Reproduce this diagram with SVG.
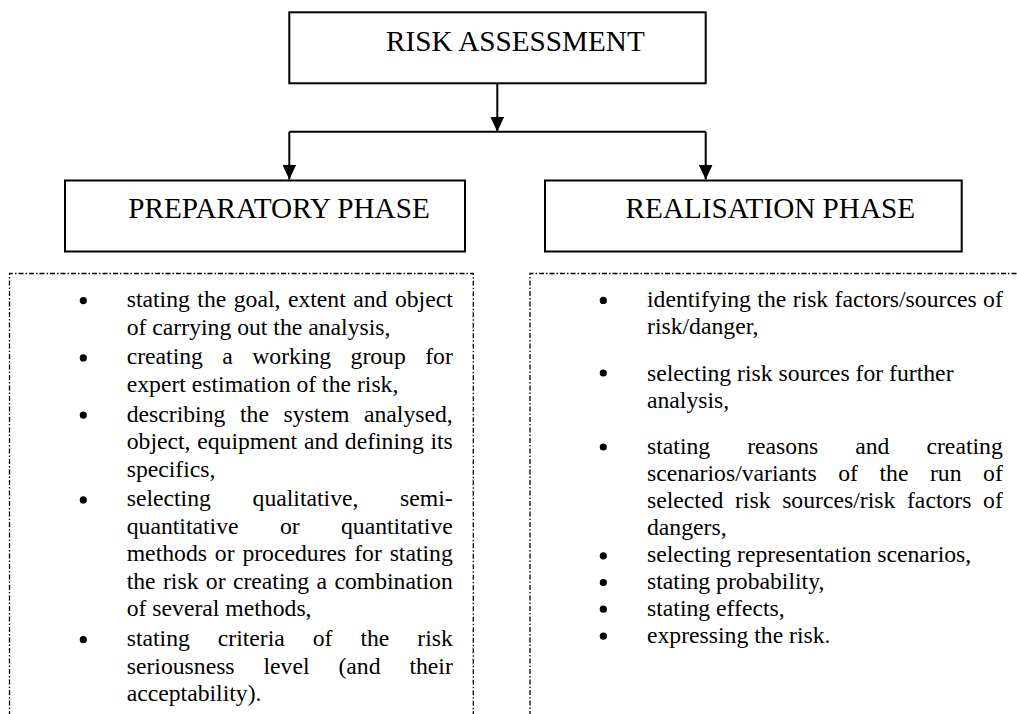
<svg xmlns="http://www.w3.org/2000/svg" width="1017" height="714" viewBox="0 0 1017 714">
<style>
.box{fill:#fff;stroke:#000;stroke-width:2}
.dash{fill:none;stroke:#000;stroke-width:1.3;stroke-dasharray:5 2 1.5 2}
.con{fill:none;stroke:#000;stroke-width:2}
.h{font-size:29.2px;fill:#000}
.t{font-size:23.7px;fill:#000}
.b{fill:#000}
</style>
<defs>
<marker id="ah" viewBox="0 0 15 14" refX="15" refY="7" markerWidth="15" markerHeight="14" markerUnits="userSpaceOnUse" orient="auto">
<path d="M0,0 L15,7 L0,14 Z" fill="#000"/>
</marker>
</defs>
<rect width="1017" height="714" fill="#fff"/>
<g id="connectors">
<path class="con" d="M497.3,83 V131.7" marker-end="url(#ah)"/>
<path class="con" d="M289.3,131.7 H705.7"/>
<path class="con" d="M289.3,131.7 V179.5" marker-end="url(#ah)"/>
<path class="con" d="M705.7,131.7 V179.5" marker-end="url(#ah)"/>
</g>
<g font-family="Liberation Serif, Times New Roman, Times, DejaVu Serif, serif">
<g id="node-risk-assessment">
<rect class="box" x="289.3" y="12.3" width="416.4" height="71"/>
<text class="h" x="386" y="50.5">RISK ASSESSMENT</text>
</g>
<g id="node-preparatory-phase">
<rect class="box" x="65" y="180.5" width="400" height="71"/>
<text class="h" x="128.3" y="218">PREPARATORY PHASE</text>
</g>
<g id="node-realisation-phase">
<rect class="box" x="545" y="180.5" width="416.7" height="71"/>
<text class="h" x="625.6" y="218">REALISATION PHASE</text>
</g>
<g id="node-preparatory-list">
<path class="dash" d="M9.5,716 V273.5 H473.3 V716"/>
<circle class="b" cx="83.3" cy="300.6" r="3.6"/>
<circle class="b" cx="83.3" cy="357.9" r="3.6"/>
<circle class="b" cx="83.3" cy="415.1" r="3.6"/>
<circle class="b" cx="83.3" cy="499.9" r="3.6"/>
<circle class="b" cx="83.3" cy="639.7" r="3.6"/>
<text class="t" x="126.7" y="307" word-spacing="1.54">stating the goal, extent and object</text>
<text class="t" x="126.7" y="334.5">of carrying out the analysis,</text>
<text class="t" x="126.7" y="364.3" word-spacing="13.45">creating a working group for</text>
<text class="t" x="126.7" y="391.8">expert estimation of the risk,</text>
<text class="t" x="126.7" y="421.6" word-spacing="8.7">describing the system analysed,</text>
<text class="t" x="126.7" y="449.1" word-spacing="0.78">object, equipment and defining its</text>
<text class="t" x="126.7" y="476.6">specifics,</text>
<text class="t" x="126.7" y="506.4" word-spacing="35.75">selecting qualitative, semi-</text>
<text class="t" x="126.7" y="533.9" word-spacing="35.45">quantitative or quantitative</text>
<text class="t" x="126.7" y="561.4" word-spacing="1.93">methods or procedures for stating</text>
<text class="t" x="126.7" y="588.9" word-spacing="1.42">the risk or creating a combination</text>
<text class="t" x="126.7" y="616.4">of several methods,</text>
<text class="t" x="126.7" y="646.2" word-spacing="22">stating criteria of the risk</text>
<text class="t" x="126.7" y="673.7" word-spacing="22.97">seriousness level (and their</text>
<text class="t" x="126.7" y="701.2">acceptability).</text>
</g>
<g id="node-realisation-list">
<path class="dash" d="M530,716 V273.5 H1020"/>
<circle class="b" cx="603.3" cy="300.4" r="3.6"/>
<circle class="b" cx="603.3" cy="373" r="3.6"/>
<circle class="b" cx="603.3" cy="447" r="3.6"/>
<circle class="b" cx="603.3" cy="555.8" r="3.6"/>
<circle class="b" cx="603.3" cy="582.5" r="3.6"/>
<circle class="b" cx="603.3" cy="609.2" r="3.6"/>
<circle class="b" cx="603.3" cy="636.2" r="3.6"/>
<text class="t" x="647" y="306.7" word-spacing="0.47">identifying the risk factors/sources of</text>
<text class="t" x="647" y="334">risk/danger,</text>
<text class="t" x="647" y="380.7">selecting risk sources for further</text>
<text class="t" x="647" y="408">analysis,</text>
<text class="t" x="647" y="453.5" word-spacing="31.1">stating reasons and creating</text>
<text class="t" x="647" y="480.7" word-spacing="15.6">scenarios/variants of the run of</text>
<text class="t" x="647" y="507.9" word-spacing="5.75">selected risk sources/risk factors of</text>
<text class="t" x="647" y="535.1">dangers,</text>
<text class="t" x="647" y="562.3">selecting representation scenarios,</text>
<text class="t" x="647" y="589">stating probability,</text>
<text class="t" x="647" y="615.7">stating effects,</text>
<text class="t" x="647" y="642.7">expressing the risk.</text>
</g>
</g>
</svg>
